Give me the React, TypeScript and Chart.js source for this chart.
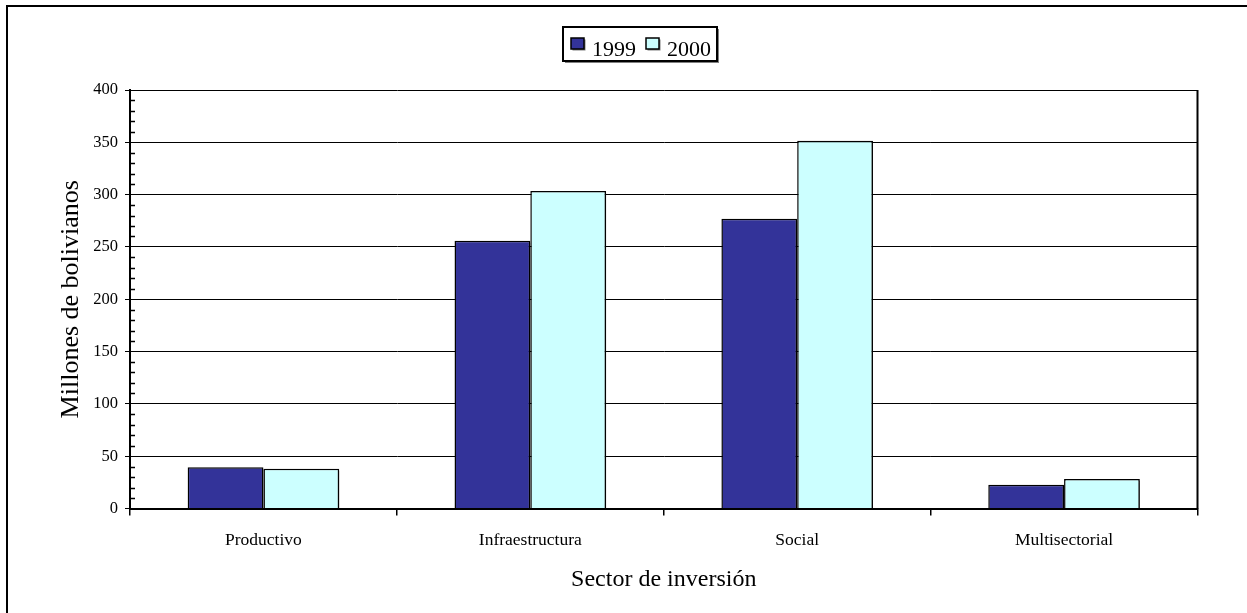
import React, { useEffect, useRef } from "react";
import { Chart, registerables } from "chart.js";

Chart.register(...registerables);

const categories = ["Productivo", "Infraestructura", "Social", "Multisectorial"];
const seriesLabels = ["1999", "2000"];
const values1999 = [39.5, 256, 277, 22.6];
const values2000 = [38, 303.5, 351.5, 28.3];
const seriesColors = ["#333399", "#CCFFFF"];
const yTitle = "Millones de bolivianos";
const xTitle = "Sector de inversión";

const FONT = "'Liberation Serif', 'Times New Roman', 'DejaVu Serif', serif";

const framePlugin = {
  id: "frame",
  beforeDraw(chart: any) {
    const ctx = chart.ctx;
    ctx.save();
    ctx.fillStyle = "#ffffff";
    ctx.fillRect(0, 0, chart.width, chart.height);
    ctx.strokeStyle = "#000000";
    ctx.lineWidth = 2;
    ctx.beginPath();
    ctx.moveTo(7, chart.height + 5);
    ctx.lineTo(7, 6);
    ctx.lineTo(chart.width + 5, 6);
    ctx.stroke();
    ctx.restore();
  },
  afterDraw(chart: any) {
    const ctx = chart.ctx;
    const ca = chart.chartArea;
    const y = chart.scales.y;
    ctx.save();
    // right border of plot
    ctx.strokeStyle = "#000000";
    ctx.lineWidth = 2;
    ctx.beginPath();
    ctx.moveTo(ca.right, ca.top);
    ctx.lineTo(ca.right, ca.bottom);
    ctx.stroke();
    // minor ticks on y axis
    ctx.lineWidth = 1.5;
    ctx.beginPath();
    for (let v = 10; v < 400; v += 10) {
      if (v % 50 === 0) continue;
      const py = Math.round(y.getPixelForValue(v)) + 0.5;
      ctx.moveTo(ca.left, py);
      ctx.lineTo(ca.left + 5, py);
    }
    ctx.stroke();

    // legend
    const bx = 563, by = 27, bw = 154, bh = 34;
    ctx.fillStyle = "#808080";
    ctx.fillRect(bx + 2, by + 2, bw, bh);
    ctx.fillStyle = "#ffffff";
    ctx.fillRect(bx, by, bw, bh);
    ctx.strokeStyle = "#000000";
    ctx.lineWidth = 2;
    ctx.strokeRect(bx, by, bw, bh);
    const items = chart.data.datasets;
    const xs = [571, 646];
    ctx.font = "22px " + FONT;
    ctx.textBaseline = "alphabetic";
    items.forEach((ds: any, i: number) => {
      const sx = xs[i];
      ctx.fillStyle = "#808080";
      ctx.fillRect(sx + 1.5, 39.5, 13, 11);
      ctx.fillStyle = ds.backgroundColor;
      ctx.fillRect(sx, 38, 13, 11);
      ctx.lineWidth = 1.5;
      ctx.strokeStyle = "#000000";
      ctx.strokeRect(sx, 38, 13, 11);
      ctx.fillStyle = "#000000";
      ctx.fillText(ds.label, sx + 21, 56);
    });
    ctx.restore();
  },
};

const shadowPlugin = {
  id: "barShadow",
  beforeDatasetsDraw(chart: any) {
    const ctx = chart.ctx;
    ctx.save();
    ctx.shadowColor = "rgba(0,0,0,0.45)";
    ctx.shadowOffsetX = 2;
    ctx.shadowOffsetY = 2;
    ctx.shadowBlur = 0;
  },
  afterDatasetsDraw(chart: any) {
    chart.ctx.restore();
  },
};

export default function App() {
  const ref = useRef<HTMLCanvasElement>(null);
  useEffect(() => {
    if (!ref.current) return;
    Chart.defaults.font.family = FONT;
    Chart.defaults.color = "#000000";
    const chart = new Chart(ref.current, {
      type: "bar",
      data: {
        labels: categories,
        datasets: [
          {
            label: seriesLabels[0],
            data: values1999,
            backgroundColor: seriesColors[0],
            borderColor: "#000000",
            borderWidth: 1.5,
          },
          {
            label: seriesLabels[1],
            data: values2000,
            backgroundColor: seriesColors[1],
            borderColor: "#000000",
            borderWidth: 1.5,
          },
        ],
      },
      options: {
        responsive: false,
        animation: false,
        layout: { padding: { left: 56, right: 49.5, top: 90, bottom: 0 } },
        plugins: {
          legend: { display: false },
          tooltip: { enabled: false },
        },
        datasets: { bar: { categoryPercentage: 0.568, barPercentage: 1 } },
        scales: {
          x: {
            grid: {
              drawOnChartArea: false,
              drawTicks: true,
              tickLength: 7,
              color: "#000000",
              lineWidth: 1.5,
              offset: true,
            },
            border: { display: true, color: "#000000", width: 2 },
            ticks: { font: { size: 17.5 }, padding: 14, color: "#000000", maxRotation: 0 },
            title: {
              display: true,
              text: xTitle,
              font: { size: 24 },
              color: "#000000",
              padding: { top: 0, bottom: 18.6 },
            },
            afterFit(scale: any) {
              scale.height = 104.5;
            },
          },
          y: {
            min: 0,
            max: 400,
            ticks: { stepSize: 50, font: { size: 16.5 }, padding: 7, color: "#000000" },
            grid: { color: "#000000", lineWidth: 1, tickLength: 5, drawTicks: true },
            border: { display: true, color: "#000000", width: 2 },
            title: {
              display: true,
              text: yTitle,
              font: { size: 26 },
              color: "#000000",
              padding: { top: 0, bottom: 0 },
            },
            afterFit(scale: any) {
              scale.width = 74;
            },
          },
        },
      },
      plugins: [framePlugin, shadowPlugin],
    });
    return () => chart.destroy();
  }, []);
  return (
    <div style={{ position: "absolute", left: 0, top: 0, width: 1247, height: 613, background: "#fff" }}>
      <canvas ref={ref} width={1247} height={613} style={{ display: "block" }} />
    </div>
  );
}
